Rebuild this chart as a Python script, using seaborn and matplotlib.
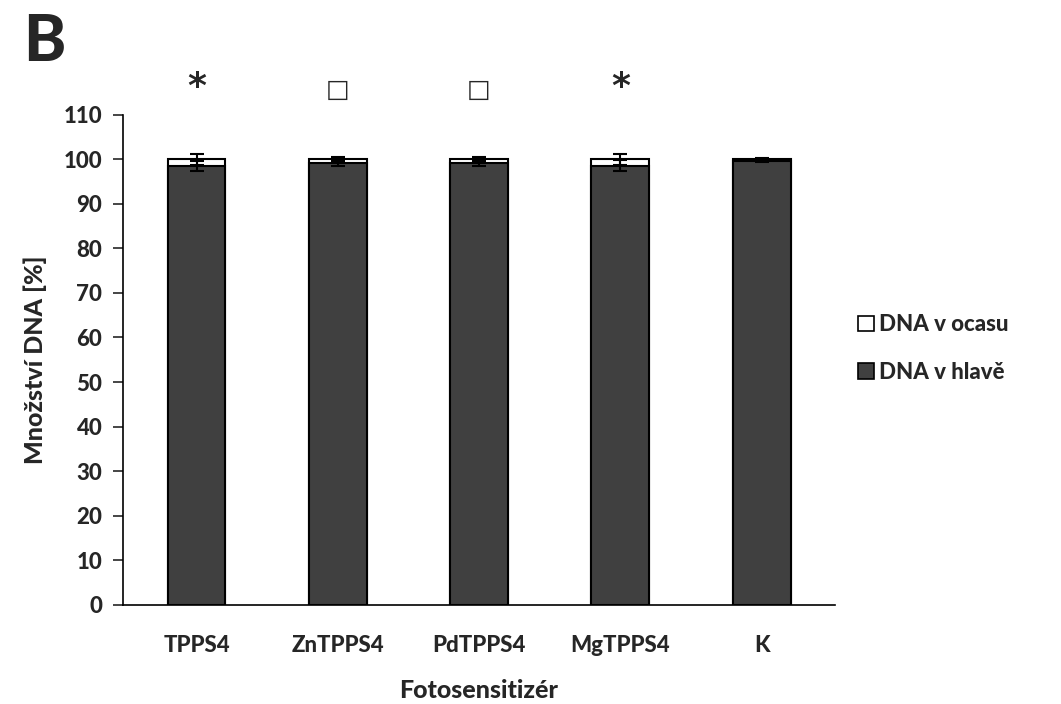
import matplotlib
matplotlib.use("Agg")
import matplotlib.pyplot as plt
import seaborn as sns
import pandas as pd
from matplotlib.patches import Patch

categories = ["TPPS4", "ZnTPPS4", "PdTPPS4", "MgTPPS4", "K"]
head = [98.5, 99.2, 99.2, 98.6, 99.6]
total = [100, 100, 100, 100, 100]
head_err = [1.2, 0.6, 0.6, 1.3, 0.3]
tail_err = [1.2, 0.6, 0.6, 1.3, 0.3]
marks = ["*", "□", "□", "*", ""]

sns.set_style("white")
plt.rcParams["font.family"] = ["Lato", "DejaVu Sans"]
W = "black"

df = pd.DataFrame({"cat": categories, "head": head, "total": total})

fig = plt.figure(figsize=(10.61, 7.04), dpi=100)
ax = fig.add_axes([0.116, 0.141, 0.671, 0.696])

sns.barplot(data=df, x="cat", y="total", color="white", edgecolor="black",
            linewidth=1.5, width=0.41, ax=ax, saturation=1)
sns.barplot(data=df, x="cat", y="head", color="#404040", edgecolor="black",
            linewidth=1.5, width=0.41, ax=ax, saturation=1)

xs = list(range(len(categories)))
ax.errorbar(xs, head, yerr=head_err, fmt="none", ecolor="black",
            elinewidth=1.5, capsize=5, capthick=1.5, zorder=5)
ax.errorbar(xs, total, yerr=tail_err, fmt="none", ecolor="black",
            elinewidth=1.5, capsize=5, capthick=1.5, zorder=5)

for x, m in zip(xs, marks):
    if m == "*":
        ax.text(x, 116.2, m, ha="center", va="center", fontsize=26,
                fontweight="bold", family=["DejaVu Sans"], clip_on=False)
    elif m:
        ax.text(x, 115.5, m, ha="center", va="center", fontsize=18,
                family=["DejaVu Sans"], fontweight="normal", clip_on=False)

ax.set_ylim(0, 110)
ax.set_xlim(-0.52, 4.52)
ax.set_yticks(range(0, 111, 10))
ax.tick_params(axis="y", direction="out", length=7, width=1.2, labelsize=16, pad=8, left=True)
ax.tick_params(axis="x", length=0, labelsize=16, pad=22)
for lbl in ax.get_xticklabels() + ax.get_yticklabels():
    lbl.set_fontweight(W)
for s in ["top", "right"]:
    ax.spines[s].set_visible(False)
ax.spines["left"].set_linewidth(1.2)
ax.spines["bottom"].set_linewidth(1.2)
ax.spines["left"].set_color("black")
ax.spines["bottom"].set_color("black")

ax.set_ylabel("Množství DNA [%]", fontsize=18, fontweight=W, labelpad=12)
ax.set_xlabel("Fotosensitizér", fontsize=18, fontweight=W, labelpad=16)

fig.text(0.022, 0.94, "B", fontsize=46, fontweight=W, ha="left", va="center")

handles = [Patch(facecolor="white", edgecolor="black", linewidth=1.2, label="DNA v ocasu"),
           Patch(facecolor="#404040", edgecolor="black", linewidth=1.2, label="DNA v hlavě")]
fig.legend(handles=handles, loc="center left", bbox_to_anchor=(0.79, 0.505),
           frameon=False, prop={"size": 16, "weight": W},
           handlelength=0.7, handleheight=0.7, handletextpad=0.25, labelspacing=1.2)

fig.savefig("out.png", dpi=100)
